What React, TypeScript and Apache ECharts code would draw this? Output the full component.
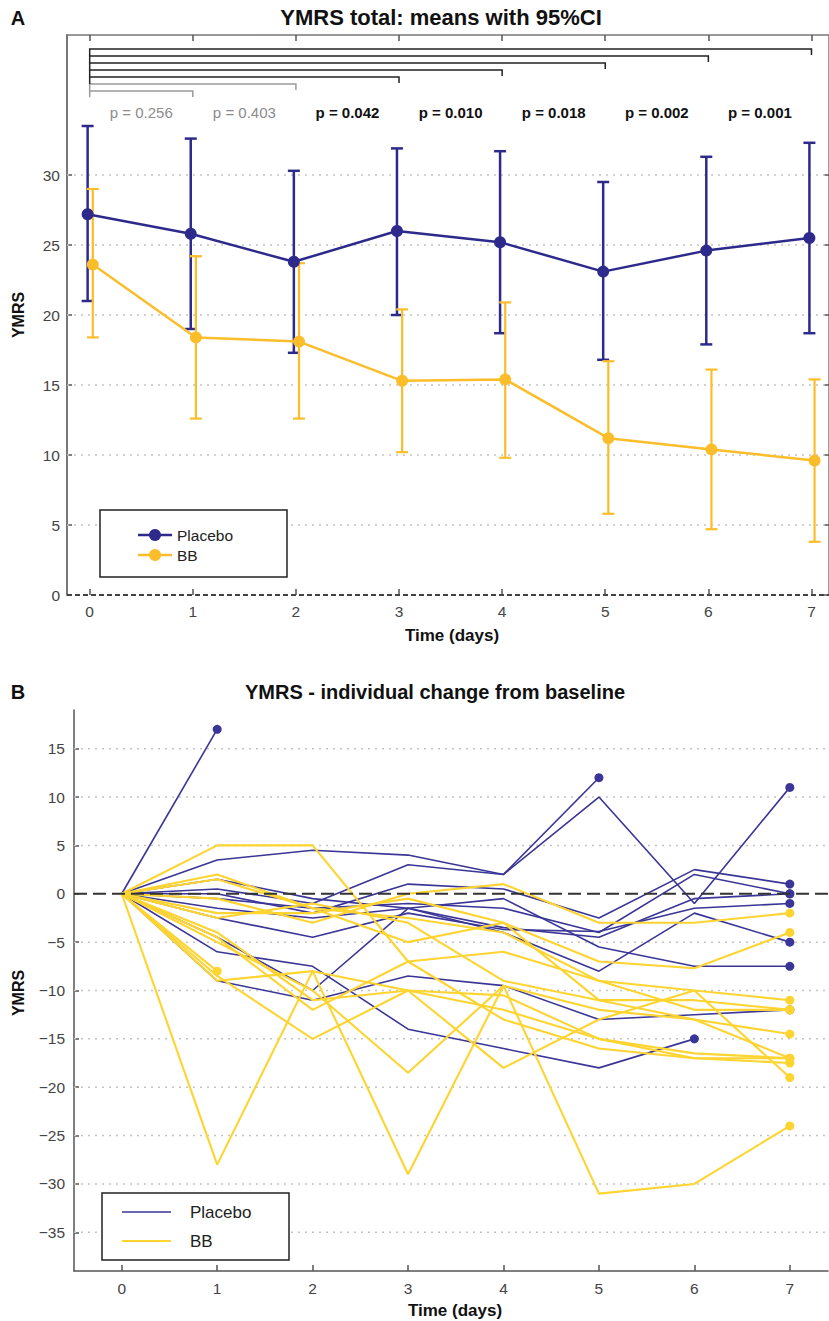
import React, { useEffect, useRef } from "react";
import * as echarts from "echarts";

// ---------- Data ----------
const days = [0, 1, 2, 3, 4, 5, 6, 7];

const placeboMean = [27.2, 25.8, 23.8, 26.0, 25.2, 23.1, 24.6, 25.5];
const placeboLow = [21.0, 19.0, 17.3, 20.0, 18.7, 16.8, 17.9, 18.7];
const placeboHigh = [33.5, 32.6, 30.3, 31.9, 31.7, 29.5, 31.3, 32.3];

const bbMean = [23.6, 18.4, 18.1, 15.3, 15.4, 11.2, 10.4, 9.6];
const bbLow = [18.4, 12.6, 12.6, 10.2, 9.8, 5.8, 4.7, 3.8];
const bbHigh = [29.0, 24.2, 23.7, 20.4, 20.9, 16.7, 16.1, 15.4];

const pValues = ["p = 0.256", "p = 0.403", "p = 0.042", "p = 0.010", "p = 0.018", "p = 0.002", "p = 0.001"];
const pSignificant = [false, false, true, true, true, true, true];
const bracketEnds = [1, 2, 3, 4, 5, 6, 7];
const bracketLevels = [36, 36.5, 37, 37.5, 38, 38.5, 39];
const bracketBottom = 35.55;
const pLabelY = 34.5;

const yTicksA = [0, 5, 10, 15, 20, 25, 30];
const yTicksB = [-35, -30, -25, -20, -15, -10, -5, 0, 5, 10, 15];

const placeboIndividual: number[][] = [
  [0, 17],
  [0, 3.5, 4.5, 4.0, 2.0, 10, -1, 11],
  [0, 0.5, -1.0, 3.0, 2.0, 12],
  [0, 1.5, -0.5, -1.5, -0.5, -5.5, -7.5, -7.5],
  [0, 0, -2.0, 1.0, 0.5, -2.5, 2.5, 1],
  [0, -0.5, -1.5, -1.0, -1.5, -4.0, 2.0, 0],
  [0, -2.5, -4.5, -2.0, -3.7, -3.9, -1.5, -1],
  [0, -1.5, -2.5, -1.5, -4.0, -8.0, -2.0, -5],
  [0, -4.5, -10, -1.5, -3.5, -4.5, -0.5, 0],
  [0, -9, -11, -8.5, -9.5, -13, -12.5, -12],
  [0, -6, -7.5, -14, -16, -18, -15],
];

const bbIndividual: number[][] = [
  [0, -8],
  [0, -28, -8, -10, -10.5, -15, -16.5, -17],
  [0, -9, -8, -29, -9.5, -31, -30, -24],
  [0, 5, 5, -7, -6, -9, -10, -11],
  [0, 2, -1.5, -5, -3, -7, -7.7, -4],
  [0, -0.5, -3, 0, 1, -3, -3, -2],
  [0, -2, -2, -0.5, -3, -11, -11, -12],
  [0, -4, -11, -10, -18, -13, -10, -19],
  [0, -8.5, -15, -10, -12, -15, -17, -17.5],
  [0, -5, -10, -18.5, -9.5, -12, -13, -14.5],
  [0, -2.5, -1, -3, -9, -11, -13, -17],
  [0, -4.5, -12, -7, -13, -16, -17, -17],
  [0, 1.5, -1.5, -2.5, -4, -9, -12, -12],
];

// ---------- Styles ----------
const FONT = '"Liberation Sans", Arial, Helvetica, sans-serif';
const BLUE_A = "#2d2a8c";
const YELLOW_A = "#fbbd29";
const BLUE_B = "#3a3596";
const YELLOW_B = "#fdd430";
const AXIS_COL = "#555";
const LABEL_COL = "#444";

const xRangeA = { min: -0.22, max: 7.17 };
const xRangeB = { min: -0.5, max: 7.4 };

const minus = (v: number) => String(v).replace("-", "\u2212");

function errorBarSeries(low: number[], high: number[], offset: number, color: string, width: number) {
  return {
    type: "custom",
    xAxisIndex: 0,
    yAxisIndex: 0,
    silent: true,
    z: 3,
    data: days.map((d, i) => [d + offset, low[i], high[i]]),
    encode: { x: 0, y: [1, 2] },
    renderItem: (_params: any, api: any) => {
      const x = api.value(0);
      const top = api.coord([x, api.value(2)]);
      const bot = api.coord([x, api.value(1)]);
      const cap = 6;
      const st = { stroke: color, lineWidth: width, fill: "none" };
      return {
        type: "group",
        children: [
          { type: "line", shape: { x1: top[0], y1: top[1], x2: bot[0], y2: bot[1] }, style: st },
          { type: "line", shape: { x1: top[0] - cap, y1: top[1], x2: top[0] + cap, y2: top[1] }, style: st },
          { type: "line", shape: { x1: bot[0] - cap, y1: bot[1], x2: bot[0] + cap, y2: bot[1] }, style: st },
        ],
      };
    },
  };
}

function meanSeries(values: number[], offset: number, color: string, z: number) {
  return {
    type: "line",
    xAxisIndex: 0,
    yAxisIndex: 0,
    silent: true,
    z,
    data: days.map((d, i) => [d + offset, values[i]]),
    symbol: "circle",
    symbolSize: 12,
    showSymbol: true,
    lineStyle: { color, width: 2.5 },
    itemStyle: { color },
  };
}

function hLine(xAxisIndex: number, yAxisIndex: number, x0: number, x1: number, y: number, style: any, z: number) {
  return {
    type: "line",
    xAxisIndex,
    yAxisIndex,
    silent: true,
    z,
    symbol: "none",
    data: [
      [x0, y],
      [x1, y],
    ],
    lineStyle: style,
  };
}

function individualSeries(rows: number[][], color: string, width: number, z: number) {
  return rows.map((row) => ({
    type: "line",
    xAxisIndex: 2,
    yAxisIndex: 2,
    silent: true,
    z,
    showSymbol: true,
    symbolSize: 9,
    data: row.map((v, i) => ({
      value: [days[i], v],
      symbol: i === row.length - 1 ? "circle" : "none",
    })),
    lineStyle: { color, width },
    itemStyle: { color },
  }));
}

function buildOption(): any {
  const gridDotted = { color: "#c4c4c4", width: 1.5, type: [2, 5] };
  const series: any[] = [];

  // Panel A grid lines
  yTicksA
    .filter((t) => t !== 0)
    .forEach((t) => series.push(hLine(0, 0, xRangeA.min, xRangeA.max, t, gridDotted, 1)));
  series.push(hLine(0, 0, xRangeA.min, xRangeA.max, 0, { color: "#444", width: 2, type: [5, 3] }, 2));

  // brackets
  series.push({
    type: "custom",
    xAxisIndex: 0,
    yAxisIndex: 0,
    silent: true,
    z: 4,
    data: bracketEnds.map((k, i) => [k, bracketLevels[i], i === 0 ? bracketBottom : bracketLevels[i - 1], pSignificant[i] ? 1 : 0]),
    encode: { x: 0, y: 1 },
    renderItem: (_params: any, api: any) => {
      const k = api.value(0);
      const lvl = api.value(1);
      const lower = api.value(2);
      const sig = api.value(3);
      const a = api.coord([0, lower]);
      const b = api.coord([0, lvl]);
      const c = api.coord([k, lvl]);
      return {
        type: "polyline",
        shape: { points: [a, b, c, [c[0], c[1] + 6]] },
        style: { stroke: sig ? "#222" : "#9a9a9a", lineWidth: 1.5, fill: "none" },
      };
    },
  });

  // p-values
  series.push({
    type: "custom",
    xAxisIndex: 0,
    yAxisIndex: 0,
    silent: true,
    z: 4,
    data: pValues.map((_p, i) => [i + 0.5, pLabelY, i]),
    encode: { x: 0, y: 1 },
    renderItem: (params: any, api: any) => {
      const i = params.dataIndex;
      const pt = api.coord([api.value(0), api.value(1)]);
      return {
        type: "text",
        x: pt[0],
        y: pt[1],
        style: {
          text: pValues[i],
          fill: pSignificant[i] ? "#111" : "#8c8c8c",
          font: `${pSignificant[i] ? "bold " : ""}15px ${FONT}`,
          textAlign: "center",
          textVerticalAlign: "middle",
        },
      };
    },
  });

  // error bars & means
  series.push(errorBarSeries(placeboLow, placeboHigh, -0.02, BLUE_A, 2.5));
  series.push(meanSeries(placeboMean, -0.02, BLUE_A, 5));
  series.push(errorBarSeries(bbLow, bbHigh, 0.03, YELLOW_A, 2.2));
  series.push(meanSeries(bbMean, 0.03, YELLOW_A, 6));

  // Panel B grid
  yTicksB
    .filter((t) => t !== 0)
    .forEach((t) => series.push(hLine(2, 2, xRangeB.min, xRangeB.max, t, gridDotted, 1)));

  series.push(...individualSeries(placeboIndividual, BLUE_B, 1.6, 3));
  series.push(...individualSeries(bbIndividual, YELLOW_B, 2.1, 4));
  series.push(hLine(2, 2, xRangeB.min, xRangeB.max, 0, { color: "#333", width: 2, type: [13, 6] }, 8));

  const tickLine = { color: AXIS_COL, width: 1.5 };
  const labelStyle = { color: LABEL_COL, fontSize: 15.5, fontFamily: FONT };

  const text = (x: number, y: number, t: string, size: number, bold: boolean, extra: any = {}) => ({
    type: "text",
    x,
    y,
    z: 100,
    ...extra,
    style: {
      text: t,
      x: 0,
      y: 0,
      fill: "#111",
      font: `${bold ? "bold " : ""}${size}px ${FONT}`,
      textAlign: "center",
      textVerticalAlign: "middle",
    },
  });

  const legend = (x: number, y: number, w: number, h: number, items: any[]) => {
    const els: any[] = [
      { type: "rect", z: 100, shape: { x, y, width: w, height: h }, style: { fill: "#fff", stroke: "#222", lineWidth: 1.5 } },
    ];
    items.forEach((it) => {
      els.push({ type: "line", z: 101, shape: { x1: it.x1, y1: it.y, x2: it.x2, y2: it.y }, style: { stroke: it.color, lineWidth: it.lw } });
      if (it.marker) els.push({ type: "circle", z: 102, shape: { cx: (it.x1 + it.x2) / 2, cy: it.y, r: 6 }, style: { fill: it.color } });
      els.push({
        type: "text",
        z: 102,
        x: it.tx,
        y: it.y,
        style: { text: it.label, x: 0, y: 0, fill: "#222", font: `${it.fs}px ${FONT}`, textAlign: "left", textVerticalAlign: "middle" },
      });
    });
    return els;
  };

  return {
    animation: false,
    backgroundColor: "#fff",
    grid: [
      { left: 67, top: 35, width: 762, height: 560 },
      { left: 74, top: 710, width: 754, height: 561 },
    ],
    xAxis: [
      {
        type: "value",
        gridIndex: 0,
        ...xRangeA,
        axisLine: { show: false },
        axisTick: { show: true, inside: true, length: 6, customValues: days, lineStyle: tickLine },
        axisLabel: { show: true, customValues: days, margin: 8, ...labelStyle },
        splitLine: { show: false },
      },
      {
        type: "value",
        gridIndex: 0,
        position: "top",
        ...xRangeA,
        axisLine: { show: true, onZero: false, lineStyle: { color: "#777", width: 1.5 } },
        axisTick: { show: true, inside: true, length: 6, customValues: days, lineStyle: tickLine },
        axisLabel: { show: false },
        splitLine: { show: false },
      },
      {
        type: "value",
        gridIndex: 1,
        ...xRangeB,
        axisLine: { show: true, onZero: false, lineStyle: { color: AXIS_COL, width: 1.5 } },
        axisTick: { show: true, inside: true, length: 6, customValues: days, lineStyle: tickLine },
        axisLabel: { show: true, customValues: days, margin: 9, ...labelStyle },
        splitLine: { show: false },
      },
    ],
    yAxis: [
      {
        type: "value",
        gridIndex: 0,
        min: 0,
        max: 40,
        axisLine: { show: true, onZero: false, lineStyle: { color: "#777", width: 2 } },
        axisTick: { show: true, inside: true, length: 5, customValues: yTicksA, lineStyle: tickLine },
        axisLabel: { show: true, customValues: yTicksA, margin: 7, ...labelStyle },
        splitLine: { show: false },
      },
      {
        type: "value",
        gridIndex: 0,
        position: "right",
        min: 0,
        max: 40,
        axisLine: { show: true, onZero: false, lineStyle: { color: "#777", width: 1.5 } },
        axisTick: { show: true, inside: true, length: 5, customValues: yTicksA, lineStyle: tickLine },
        axisLabel: { show: false },
        splitLine: { show: false },
      },
      {
        type: "value",
        gridIndex: 1,
        min: -39,
        max: 19,
        axisLine: { show: true, onZero: false, lineStyle: { color: AXIS_COL, width: 1.5 } },
        axisTick: { show: true, inside: true, length: 5, customValues: yTicksB, lineStyle: tickLine },
        axisLabel: { show: true, customValues: yTicksB, margin: 9, formatter: (v: number) => minus(v), ...labelStyle },
        splitLine: { show: false },
      },
    ],
    series,
    graphic: [
      text(18, 18, "A", 20, true),
      text(441, 17, "YMRS total: means with 95%CI", 22, true),
      text(18, 692, "B", 20, true),
      text(435, 692, "YMRS - individual change from baseline", 20, true),
      text(18, 315, "YMRS", 16, true, { rotation: Math.PI / 2 }),
      text(18, 993, "YMRS", 16, true, { rotation: Math.PI / 2 }),
      text(452, 635, "Time (days)", 17, true),
      text(455, 1310, "Time (days)", 17, true),
      ...legend(100, 510, 187, 67, [
        { x1: 138, x2: 172, y: 535, color: BLUE_A, lw: 2.5, marker: true, tx: 177, label: "Placebo", fs: 15.5 },
        { x1: 138, x2: 172, y: 555, color: YELLOW_A, lw: 2.5, marker: true, tx: 177, label: "BB", fs: 15.5 },
      ]),
      ...legend(102, 1193, 187, 67, [
        { x1: 122, x2: 171, y: 1212, color: BLUE_B, lw: 1.6, marker: false, tx: 190, label: "Placebo", fs: 17 },
        { x1: 122, x2: 171, y: 1241, color: YELLOW_B, lw: 2, marker: false, tx: 190, label: "BB", fs: 17 },
      ]),
    ],
  };
}

export default function App() {
  const ref = useRef<HTMLDivElement>(null);
  useEffect(() => {
    document.body.style.margin = "0";
    const chart = echarts.init(ref.current as HTMLDivElement, null, { renderer: "svg" });
    chart.setOption(buildOption());
    return () => chart.dispose();
  }, []);
  return <div ref={ref} style={{ width: 829, height: 1321 }} />;
}
